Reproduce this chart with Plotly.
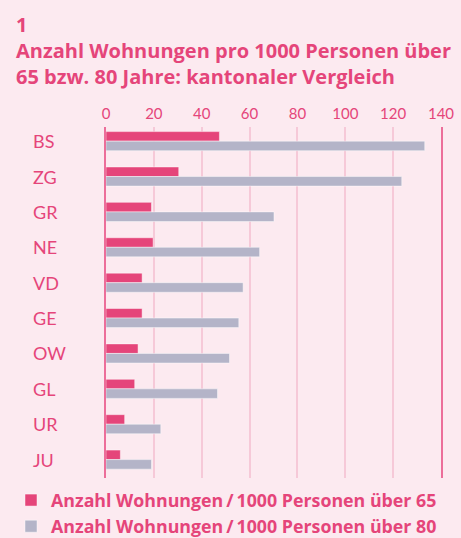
import plotly.graph_objects as go

kantone = ["BS", "ZG", "GR", "NE", "VD", "GE", "OW", "GL", "UR", "JU"]
ueber65 = [47.4, 30.4, 19.0, 19.7, 15.1, 15.1, 13.4, 12.0, 7.8, 6.0]
ueber80 = [133.2, 123.6, 70.2, 64.2, 57.3, 55.5, 51.6, 46.6, 22.9, 19.0]
x_ticks = [0, 20, 40, 60, 80, 100, 120, 140]

PINK = "#E5457A"
GRAY = "#B4B4C8"
BG = "#FCEAF0"
FONT = "Lato"
TFONT = "Open Sans"

fig = go.Figure()
fig.add_trace(go.Bar(
    y=kantone, x=ueber65, orientation="h",
    name="Anzahl Wohnungen\u2009/\u20091000 Personen über 65",
    marker=dict(color=PINK, line=dict(color="rgba(255,255,255,0.45)", width=1)),
))
fig.add_trace(go.Bar(
    y=kantone, x=ueber80, orientation="h",
    name="Anzahl Wohnungen\u2009/\u20091000 Personen über 80",
    marker=dict(color=GRAY, line=dict(color="rgba(255,255,255,0.45)", width=1)),
))

L, R, T, B = 106, 20, 127, 60
PW, PH = 461 - L - R, 538 - T - B

# left-aligned category labels
for k in kantone:
    fig.add_annotation(
        x=-(L - 31) / PW, xref="paper", xanchor="left",
        y=k, yref="y", yanchor="middle",
        text=k, showarrow=False,
        font=dict(family=FONT, size=18, color=PINK),
    )

fig.update_layout(
    width=461, height=538,
    paper_bgcolor=BG, plot_bgcolor=BG,
    barmode="group", bargap=0.46, bargroupgap=0,
    margin=dict(l=L, r=R, t=T, b=B, autoexpand=False),
    font=dict(family=FONT, color=PINK),
    title=dict(
        text="<b>1<br>Anzahl Wohnungen pro 1000 Personen über<br>65 bzw. 80 Jahre: kantonaler Vergleich</b>",
        x=16 / 461, xanchor="left", xref="container",
        y=1 - 32 / 538, yanchor="top", yref="container",
        font=dict(family=TFONT, size=20, color=PINK),
    ),
    xaxis=dict(
        side="top", range=[0, 140], tickvals=x_ticks,
        showgrid=True, gridcolor="#F6C9D8", gridwidth=1.5,
        zeroline=False, showline=False, ticks="",
        ticklabelstandoff=4,
        tickfont=dict(family=FONT, size=15, color=PINK),
        fixedrange=True,
    ),
    yaxis=dict(
        type="category", categoryorder="array", categoryarray=kantone,
        range=[9.52, -0.40],
        showline=True, mirror=True, linecolor="#EC6E9A", linewidth=1.8,
        showgrid=False, zeroline=False, ticks="",
        showticklabels=False, fixedrange=True,
    ),
    legend=dict(
        orientation="v", x=(11 - L) / PW, xanchor="left",
        y=-(482 - (T + PH)) / PH, yanchor="top",
        font=dict(family=TFONT, size=17.8, color=PINK, weight="bold"),
        bgcolor="rgba(0,0,0,0)", tracegroupgap=0,
        itemwidth=30,
    ),
    showlegend=True,
)

fig.write_html(
    "out.html",
    config={"displayModeBar": False},
    post_script="document.body.style.margin='0px';document.body.style.padding='0px';",
)
